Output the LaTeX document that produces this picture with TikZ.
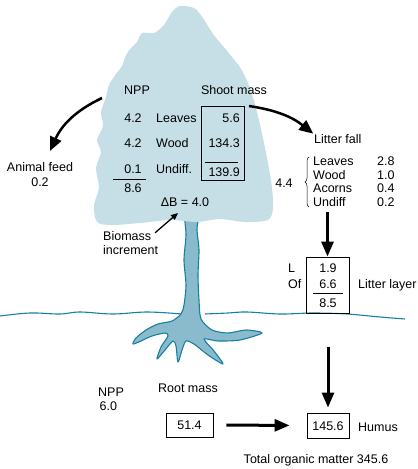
\documentclass[tikz,border=0pt]{standalone}
\usepackage{fontspec}
\setmainfont{Liberation Sans}
\usepackage{tikz}
\usetikzlibrary{arrows.meta, positioning, decorations.pathreplacing}
\definecolor{crownblue}{RGB}{198,223,231}
\definecolor{woodblue}{RGB}{137,187,205}
\definecolor{edgeblue}{RGB}{22,128,163}
\tikzset{
  txt_label/.style={inner sep=0pt, text height=9pt, text depth=0pt, font=\fontsize{12.5}{15}\selectfont},
  num_box/.style={draw=black, line width=0.9pt, inner sep=0pt},
  sum_rule/.style={line width=0.9pt},
  crown_shape/.style={fill=crownblue},
  trunk_shape/.style={fill=woodblue, draw=edgeblue, line width=1.1pt, line join=round},
  ground_line/.style={draw=edgeblue, line width=1.1pt},
  brace_line/.style={line width=0.5pt, decorate, decoration={brace, amplitude=4pt}},
  flow_arrow/.style={-{Triangle[length=15pt, width=12pt]}, line width=3pt},
  curve_arrow/.style={-{Triangle[length=14pt, width=12pt]}, line width=2.5pt},
  thin_arrow/.style={-{Triangle[length=7pt, width=6pt]}, line width=1.3pt}
}

\begin{document}
\begin{tikzpicture}[x=1pt, y=-1pt]
  \useasboundingbox (0,0) rectangle (418,469);

  % --- Column positions ---
  \def\xNpp{133}      % NPP numbers
  \def\xPart{156}     % plant parts
  \def\xMass{240}     % right edge of shoot mass values
  \def\xFall{313}     % litter fall names
  \def\xFallVal{377}  % litter fall values

  % --- Ground surface ---
  \draw[ground_line] plot[smooth, tension=0.6] coordinates {(0,316) (30,313) (60,314) (80,312) (113,314) (147,312) (182,314)};
  \draw[ground_line] plot[smooth, tension=0.6] coordinates {(205,314) (228,313) (247,312) (280,314) (313,313) (347,314) (380,317) (405,319)};

  % --- Trunk and roots ---
  \draw[trunk_shape] plot[smooth cycle, tension=0.45] coordinates {
    (185,212) (186,235) (184,260) (186,285) (184,305) (181,314) (172,321)
    (158,324) (146,330) (136,338) (133,344) (141,341) (152,336) (165,333)
    (168,336) (161,347) (157,359) (165,350) (173,341) (176,346) (178,362)
    (182,350) (186,341) (194,344) (208,355) (223,364) (214,351) (204,339)
    (218,341) (240,340) (262,333) (246,330) (228,333) (212,330) (201,319)
    (199,300) (198,275) (199,250) (197,230) (198,212)};

  % --- Crown ---
  \fill[crown_shape] plot[smooth cycle, tension=0.5] coordinates {
    (180,6) (194,8) (203,18) (213,34) (228,52) (241,69) (250,88) (257,112)
    (263,138) (268,163) (272,188) (273,208) (268,220) (245,222) (220,219)
    (197,222) (170,220) (140,223) (112,225) (97,222) (94,205) (99,188)
    (96,168) (101,152) (97,140) (103,126) (101,112) (106,97) (109,85)
    (116,74) (122,66) (126,55) (131,48) (137,42) (142,33) (154,33)
    (164,25) (172,12)};

  % --- Shoot: NPP and standing mass ---
  \node[txt_label] (npp_top) at (137,90) {NPP};
  \node[txt_label] (shoot_lbl) at (234,90) {Shoot mass};
  \node[num_box, minimum width=43pt, minimum height=74pt] (shoot_box) at (222.5,143) {};
  \foreach \npp/\part/\mass [count=\i] in {4.2/Leaves/5.6, 4.2/Wood/134.3} {
    \node[txt_label] (npp-\i) at (\xNpp, {92+25.5*\i}) {\npp};
    \node[txt_label, anchor=west] (part-\i) at (\xPart, {92+25.5*\i}) {\part};
    \node[txt_label, anchor=east] (mass-\i) at (\xMass, {92+25.5*\i}) {\mass};
  }
  \node[txt_label] (npp-3) at (\xNpp,169) {0.1};
  \node[txt_label, anchor=west] (part-3) at (\xPart,169) {Undiff.};
  \draw[sum_rule] (113,179) -- (146,179);
  \node[txt_label] (npp_sum) at (\xNpp,188) {8.6};
  \draw[sum_rule] (205,162) -- (238,162);
  \node[txt_label, anchor=east] (mass_sum) at (\xMass,172) {139.9};
  \node[txt_label] (delta_b) at (185,202) {ΔB = 4.0};

  \node[txt_label, anchor=west] (bio_lbl) at (103,236) {Biomass};
  \node[txt_label, anchor=west] (bio_lbl2) at (103,249.5) {increment};
  \coordinate (bio_in) at (178,213);
  \draw[thin_arrow, shorten <=5pt] (bio_lbl.east) -- (bio_in);

  % --- Animal feed ---
  \node[txt_label] (feed_lbl) at (40,167) {Animal feed};
  \node[txt_label] (feed_val) at (40,181.5) {0.2};
  \coordinate (feed_out) at (102,98);
  \coordinate (feed_in) at (50,151);
  \draw[curve_arrow] (feed_out) to[bend right=20] (feed_in);

  % --- Litter fall ---
  \node[txt_label, anchor=west] (fall_title) at (314,139) {Litter fall};
  \coordinate (shoot_out) at (249,106);
  \draw[curve_arrow, shorten >=1pt] (shoot_out) to[bend left=15] (fall_title.north west);
  \foreach \name/\val [count=\i] in {Leaves/2.8, Wood/1.0, Acorns/0.4, Undiff/0.2} {
    \node[txt_label, anchor=west] (fall_name-\i) at (\xFall, {147.5+13.5*\i}) {\name};
    \node[txt_label, anchor=west] (fall_val-\i) at (\xFallVal, {147.5+13.5*\i}) {\val};
  }
  \node[txt_label] (fall_sum) at (284,183) {4.4};
  \draw[brace_line] (309,207) -- (309,157);

  % --- Litter layer ---
  \node[num_box, minimum width=43pt, minimum height=56pt] (litter_box) at (327.5,285) {};
  \coordinate (fall_down) at (litter_box.north |- 0,212);
  \draw[flow_arrow] (fall_down) -- (litter_box.north);
  \node[txt_label, anchor=west] (layer_l) at (288,268) {L};
  \node[txt_label, anchor=west] (layer_of) at (288,284) {Of};
  \node[txt_label] (litter_l) at (328,268) {1.9};
  \node[txt_label] (litter_of) at (328,284) {6.6};
  \draw[sum_rule] (313,293) -- (343,293);
  \node[txt_label] (litter_sum) at (328,303) {8.5};
  \node[txt_label, anchor=west] (litter_lbl) at (358,284) {Litter layer};

  % --- Roots and humus ---
  \node[txt_label, anchor=west] (npp_root) at (98,392) {NPP};
  \node[txt_label, anchor=west] (npp_root_val) at (99.5,406) {6.0};
  \node[txt_label] (root_lbl) at (188,388) {Root mass};
  \node[num_box, minimum width=47pt, minimum height=24pt] (root_box) at (189.5,425) {};
  \node[txt_label] (root_val) at (root_box) {51.4};

  \node[num_box, minimum width=42pt, minimum height=25pt] (humus_box) at (328,425.5) {};
  \node[txt_label] (humus_val) at (humus_box) {145.6};
  \node[txt_label, anchor=west] (humus_lbl) at (358,427) {Humus};
  \coordinate (layer_down) at (humus_box.north |- 0,347);
  \draw[flow_arrow, shorten >=5pt] (layer_down) -- (humus_box.north);
  \draw[flow_arrow, shorten <=13pt, shorten >=17pt] (root_box.east) -- (humus_box.west);

  \node[txt_label] (total_lbl) at (316,459) {Total organic matter 345.6};

\end{tikzpicture}
\end{document}
